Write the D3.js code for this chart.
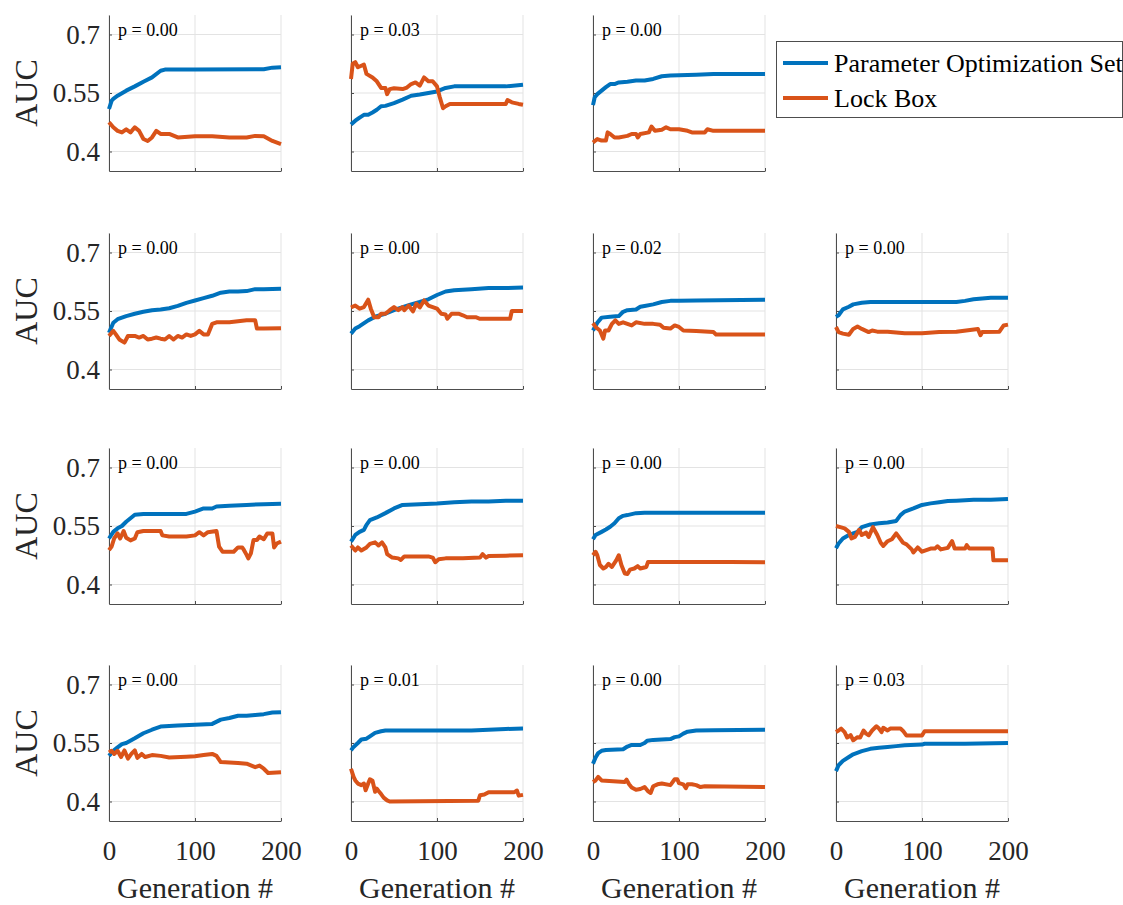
<!DOCTYPE html>
<html>
<head>
  <script src="https://d3js.org/d3.v7.min.js"></script>
  <style>
    body { margin: 0; background: #fff; }
  </style>
</head>
<body>
  <div id="chart"></div>

  <script>
    // [generation, AUC]
    var opt1 = [[0,0.509],[3,0.53],[5,0.535],[10,0.543],[20,0.556],[30,0.567],[40,0.579],[50,0.59],[60,0.607],[65,0.61],[100,0.61],[180,0.611],[190,0.615],[200,0.616]];
    var lock1 = [[0,0.475],[5,0.462],[10,0.453],[15,0.449],[20,0.457],[25,0.449],[30,0.462],[35,0.453],[40,0.432],[45,0.427],[50,0.436],[55,0.453],[60,0.445],[70,0.445],[80,0.436],[100,0.439],[120,0.439],[140,0.436],[160,0.436],[170,0.44],[180,0.439],[190,0.427],[200,0.419]];
    var opt2 = [[0,0.469],[5,0.479],[10,0.487],[15,0.494],[20,0.494],[25,0.5],[30,0.507],[35,0.516],[40,0.517],[50,0.524],[60,0.533],[70,0.543],[80,0.546],[90,0.55],[100,0.554],[110,0.563],[120,0.567],[180,0.567],[200,0.571]];
    var lock2 = [[0,0.586],[2,0.625],[5,0.629],[8,0.616],[12,0.62],[15,0.623],[18,0.599],[25,0.59],[30,0.58],[35,0.563],[40,0.563],[42,0.547],[45,0.56],[50,0.562],[60,0.56],[65,0.564],[70,0.573],[75,0.577],[80,0.569],[85,0.59],[90,0.58],[95,0.58],[100,0.567],[103,0.541],[107,0.511],[110,0.516],[115,0.522],[180,0.522],[182,0.532],[187,0.526],[195,0.522],[200,0.52]];
    var opt3 = [[0,0.519],[2,0.539],[5,0.547],[10,0.556],[15,0.565],[20,0.573],[25,0.573],[30,0.577],[40,0.579],[50,0.582],[60,0.582],[70,0.586],[80,0.593],[90,0.595],[120,0.597],[140,0.599],[200,0.599]];
    var lock3 = [[0,0.423],[5,0.432],[10,0.428],[15,0.428],[17,0.449],[20,0.445],[25,0.436],[30,0.436],[40,0.44],[45,0.445],[50,0.445],[52,0.436],[55,0.445],[65,0.449],[68,0.464],[72,0.453],[80,0.456],[85,0.462],[90,0.457],[100,0.457],[110,0.453],[115,0.449],[130,0.449],[133,0.457],[140,0.453],[200,0.453]];

    var opt5 = [[0,0.494],[5,0.52],[10,0.529],[20,0.537],[30,0.543],[40,0.548],[50,0.552],[60,0.554],[70,0.557],[80,0.563],[90,0.571],[100,0.577],[110,0.583],[120,0.589],[130,0.597],[140,0.6],[150,0.6],[160,0.601],[170,0.606],[180,0.606],[200,0.607]];
    var lock5 = [[0,0.486],[5,0.499],[8,0.49],[12,0.477],[18,0.469],[22,0.486],[30,0.486],[35,0.482],[40,0.486],[45,0.477],[50,0.479],[55,0.482],[60,0.479],[65,0.477],[70,0.486],[75,0.477],[80,0.486],[85,0.482],[90,0.49],[95,0.486],[100,0.49],[105,0.499],[110,0.49],[115,0.49],[120,0.517],[125,0.521],[140,0.521],[160,0.526],[170,0.526],[172,0.505],[180,0.505],[200,0.506]];
    var opt6 = [[0,0.492],[5,0.505],[10,0.511],[20,0.526],[30,0.537],[40,0.543],[50,0.552],[60,0.56],[70,0.567],[80,0.573],[90,0.58],[100,0.591],[110,0.6],[120,0.603],[140,0.606],[160,0.609],[180,0.609],[200,0.61]];
    var lock6 = [[0,0.559],[5,0.564],[10,0.556],[15,0.56],[20,0.579],[23,0.556],[27,0.534],[32,0.534],[35,0.543],[40,0.543],[45,0.552],[50,0.56],[55,0.552],[60,0.56],[62,0.552],[67,0.564],[72,0.549],[76,0.569],[80,0.559],[85,0.577],[90,0.564],[95,0.56],[100,0.556],[105,0.543],[110,0.541],[112,0.53],[117,0.543],[125,0.543],[130,0.539],[135,0.534],[145,0.534],[150,0.53],[185,0.53],[187,0.55],[200,0.55]];
    var opt7 = [[0,0.5],[5,0.52],[10,0.533],[20,0.535],[30,0.537],[35,0.548],[40,0.552],[50,0.554],[55,0.561],[60,0.563],[70,0.567],[80,0.573],[90,0.576],[100,0.576],[120,0.577],[200,0.579]];
    var lock7 = [[0,0.519],[3,0.509],[8,0.5],[12,0.479],[14,0.5],[18,0.5],[22,0.517],[26,0.526],[30,0.517],[35,0.521],[40,0.517],[45,0.513],[50,0.521],[60,0.517],[70,0.517],[78,0.515],[82,0.507],[90,0.505],[95,0.513],[100,0.509],[105,0.5],[120,0.499],[140,0.496],[143,0.49],[200,0.49]];
    var opt8 = [[0,0.535],[3,0.539],[8,0.554],[15,0.561],[20,0.567],[30,0.571],[40,0.573],[140,0.573],[150,0.576],[160,0.58],[170,0.582],[180,0.584],[200,0.584]];
    var lock8 = [[0,0.509],[3,0.496],[8,0.492],[15,0.489],[20,0.504],[25,0.51],[30,0.504],[38,0.496],[42,0.5],[48,0.497],[60,0.497],[80,0.493],[100,0.493],[120,0.496],[140,0.497],[165,0.504],[168,0.488],[170,0.496],[190,0.497],[195,0.513],[200,0.515]];

    var opt9 = [[0,0.518],[5,0.535],[10,0.544],[15,0.55],[20,0.561],[25,0.57],[30,0.579],[40,0.581],[90,0.581],[100,0.587],[110,0.595],[120,0.595],[125,0.6],[140,0.602],[160,0.604],[180,0.606],[200,0.607]];
    var lock9 = [[0,0.488],[3,0.497],[6,0.518],[10,0.531],[13,0.518],[17,0.537],[20,0.52],[25,0.513],[30,0.518],[33,0.534],[40,0.537],[60,0.537],[62,0.526],[70,0.523],[90,0.523],[100,0.526],[105,0.534],[110,0.526],[115,0.534],[125,0.537],[128,0.497],[132,0.484],[145,0.484],[150,0.495],[155,0.495],[157,0.488],[160,0.476],[162,0.467],[165,0.48],[168,0.514],[172,0.514],[175,0.523],[180,0.516],[184,0.531],[190,0.531],[192,0.495],[195,0.505],[200,0.51]];
    var opt10 = [[0,0.51],[5,0.527],[10,0.535],[15,0.54],[18,0.553],[22,0.565],[30,0.572],[40,0.583],[50,0.595],[60,0.604],[80,0.606],[100,0.608],[120,0.611],[140,0.613],[160,0.613],[180,0.615],[200,0.615]];
    var lock10 = [[0,0.5],[5,0.487],[8,0.495],[12,0.487],[18,0.495],[22,0.504],[28,0.508],[32,0.5],[36,0.508],[40,0.495],[42,0.478],[48,0.469],[55,0.467],[58,0.463],[62,0.472],[90,0.472],[95,0.469],[98,0.457],[102,0.465],[110,0.467],[130,0.467],[150,0.469],[153,0.478],[157,0.469],[160,0.473],[180,0.474],[200,0.475]];
    var opt11 = [[0,0.516],[3,0.527],[10,0.535],[15,0.541],[20,0.548],[25,0.557],[30,0.57],[35,0.576],[40,0.578],[50,0.583],[60,0.584],[200,0.584]];
    var lock11 = [[0,0.475],[3,0.484],[5,0.475],[8,0.45],[12,0.441],[15,0.445],[18,0.453],[22,0.445],[27,0.462],[30,0.475],[33,0.45],[37,0.428],[40,0.427],[43,0.438],[48,0.441],[52,0.447],[55,0.441],[62,0.445],[64,0.458],[160,0.458],[200,0.457]];
    var opt12 = [[0,0.493],[3,0.505],[8,0.518],[15,0.527],[25,0.535],[30,0.547],[40,0.554],[50,0.557],[60,0.559],[70,0.563],[75,0.578],[80,0.587],[90,0.595],[100,0.604],[110,0.608],[120,0.611],[130,0.614],[140,0.615],[160,0.617],[180,0.617],[200,0.619]];
    var lock12 = [[0,0.55],[5,0.547],[10,0.544],[15,0.535],[18,0.518],[22,0.522],[27,0.54],[30,0.527],[35,0.533],[38,0.522],[43,0.547],[48,0.527],[52,0.507],[55,0.499],[60,0.511],[65,0.516],[70,0.531],[75,0.516],[78,0.507],[82,0.503],[88,0.49],[90,0.482],[95,0.495],[100,0.484],[110,0.492],[115,0.492],[118,0.498],[122,0.49],[130,0.494],[135,0.511],[138,0.492],[150,0.492],[152,0.501],[155,0.492],[182,0.492],[183,0.462],[200,0.462]];

    var opt13 = [[0,0.517],[5,0.53],[10,0.539],[15,0.547],[20,0.55],[30,0.562],[40,0.575],[50,0.584],[60,0.592],[80,0.595],[100,0.597],[120,0.599],[130,0.61],[140,0.614],[150,0.62],[160,0.62],[170,0.622],[180,0.624],[190,0.628],[200,0.629]];
    var lock13 = [[0,0.526],[3,0.53],[6,0.522],[10,0.53],[14,0.514],[18,0.531],[22,0.51],[26,0.522],[30,0.531],[33,0.512],[38,0.522],[42,0.514],[50,0.519],[60,0.517],[70,0.513],[90,0.515],[100,0.516],[110,0.519],[120,0.522],[125,0.517],[130,0.501],[150,0.499],[160,0.497],[170,0.488],[175,0.492],[180,0.484],[185,0.473],[200,0.475]];
    var opt14 = [[0,0.531],[3,0.54],[8,0.55],[12,0.559],[18,0.561],[22,0.567],[28,0.576],[35,0.58],[40,0.582],[140,0.582],[160,0.584],[180,0.586],[200,0.587]];
    var lock14 = [[0,0.484],[3,0.463],[5,0.454],[8,0.446],[12,0.442],[15,0.446],[17,0.429],[20,0.446],[22,0.457],[25,0.453],[28,0.425],[30,0.433],[32,0.427],[35,0.419],[38,0.41],[42,0.403],[45,0.4],[148,0.402],[150,0.416],[155,0.418],[160,0.424],[190,0.424],[193,0.428],[195,0.415],[200,0.417]];
    var opt15 = [[0,0.497],[3,0.513],[6,0.524],[10,0.53],[15,0.532],[35,0.534],[40,0.541],[45,0.545],[55,0.545],[60,0.55],[63,0.556],[70,0.558],[90,0.56],[95,0.565],[100,0.567],[105,0.574],[110,0.579],[120,0.582],[140,0.583],[200,0.584]];
    var lock15 = [[0,0.45],[3,0.454],[6,0.463],[10,0.454],[37,0.45],[39,0.456],[42,0.444],[45,0.436],[50,0.43],[55,0.432],[60,0.437],[64,0.426],[67,0.422],[70,0.439],[75,0.444],[80,0.446],[90,0.442],[95,0.457],[98,0.457],[100,0.447],[105,0.444],[108,0.434],[110,0.444],[115,0.444],[120,0.442],[125,0.437],[130,0.439],[200,0.437]];
    var opt16 = [[0,0.478],[3,0.493],[8,0.504],[15,0.514],[20,0.521],[30,0.529],[40,0.535],[50,0.538],[60,0.54],[70,0.542],[80,0.544],[100,0.546],[103,0.548],[150,0.548],[200,0.55]];
    var lock16 = [[0,0.578],[3,0.582],[6,0.587],[10,0.578],[13,0.564],[17,0.57],[20,0.557],[25,0.565],[28,0.564],[32,0.582],[35,0.574],[38,0.57],[42,0.582],[47,0.593],[50,0.587],[53,0.578],[55,0.589],[60,0.582],[63,0.587],[75,0.587],[78,0.581],[82,0.569],[100,0.569],[103,0.58],[200,0.58]];

    var pLabels = ["0.00", "0.03", "0.00", null,
                   "0.00", "0.00", "0.02", "0.00",
                   "0.00", "0.00", "0.00", "0.00",
                   "0.00", "0.01", "0.00", "0.03"];
    var optSeries = [opt1, opt2, opt3, null, opt5, opt6, opt7, opt8, opt9, opt10, opt11, opt12, opt13, opt14, opt15, opt16];
    var lockSeries = [lock1, lock2, lock3, null, lock5, lock6, lock7, lock8, lock9, lock10, lock11, lock12, lock13, lock14, lock15, lock16];
    var yTicks = [0.4, 0.55, 0.7];
    var xTicks = [0, 100, 200];
    var legendNames = ["Parameter Optimization Set", "Lock Box"];

    var serif = "'Liberation Serif', 'Times New Roman', serif";
    var blue = "#0072BD", orange = "#D95319";
    var colLeft = [109, 351, 593, 836];
    var rowTop = [15, 233, 448, 665];
    var pw = 172, ph = 156;

    var svg = d3.select("#chart").append("svg")
      .attr("width", 1123)
      .attr("height", 905);

    var x = d3.scaleLinear().domain([0, 200]).range([0, pw]);
    var y = d3.scaleLinear().domain([0.35, 0.75]).range([ph, 0]);

    var line = d3.line()
      .x(function(d) { return x(d[0]); })
      .y(function(d) { return y(d[1]); });

    optSeries.forEach(function(opt, i) {
      if (!opt) return;
      var r = Math.floor(i / 4), c = i % 4;
      var g = svg.append("g")
        .attr("transform", "translate(" + colLeft[c] + "," + rowTop[r] + ")");

      // grid
      g.selectAll(".gy").data(yTicks).enter().append("line")
        .attr("x1", 0).attr("x2", pw)
        .attr("y1", function(d) { return y(d); }).attr("y2", function(d) { return y(d); })
        .attr("stroke", "#e3e3e3");
      g.selectAll(".gx").data(xTicks).enter().append("line")
        .attr("y1", 0).attr("y2", ph)
        .attr("x1", function(d) { return x(d); }).attr("x2", function(d) { return x(d); })
        .attr("stroke", "#e3e3e3");

      var yAxis = d3.axisLeft(y).tickValues(yTicks).tickSize(-3).tickSizeOuter(0).tickPadding(9)
        .tickFormat(c === 0 ? function(d) { return d === 0.55 ? "0.55" : String(d); } : "");
      var xAxis = d3.axisBottom(x).tickValues(xTicks).tickSize(-3).tickSizeOuter(0).tickPadding(20)
        .tickFormat(r === 3 ? d3.format("d") : "");

      var ya = g.append("g").call(yAxis);
      var xa = g.append("g").attr("transform", "translate(0," + ph + ")").call(xAxis);
      [ya, xa].forEach(function(a) {
        a.select(".domain").attr("stroke", "#4d4d4d");
        a.selectAll(".tick line").attr("stroke", "#4d4d4d");
        a.selectAll("text")
          .style("font-family", serif)
          .style("font-size", "27px")
          .style("fill", "#262626");
      });

      g.append("path").datum(opt)
        .attr("d", line).attr("fill", "none")
        .attr("stroke", blue).attr("stroke-width", 4).attr("stroke-linejoin", "round");
      g.append("path").datum(lockSeries[i])
        .attr("d", line).attr("fill", "none")
        .attr("stroke", orange).attr("stroke-width", 4).attr("stroke-linejoin", "round");

      g.append("text")
        .attr("x", 9).attr("y", 21)
        .style("font-family", serif).style("font-size", "18px").style("fill", "#000")
        .text("p = " + pLabels[i]);

      if (c === 0) {
        g.append("text")
          .attr("transform", "translate(-72," + (ph / 2) + ") rotate(-90)")
          .attr("text-anchor", "middle")
          .style("font-family", serif).style("font-size", "32px").style("fill", "#262626")
          .text("AUC");
      }
      if (r === 3) {
        g.append("text")
          .attr("x", pw / 2).attr("y", ph + 77)
          .attr("text-anchor", "middle")
          .style("font-family", serif).style("font-size", "30px").style("fill", "#262626")
          .text("Generation #");
      }
    });

    // legend
    var leg = svg.append("g").attr("transform", "translate(776,41)");
    leg.append("rect")
      .attr("x", 0.5).attr("y", 0.5).attr("width", 346).attr("height", 76)
      .attr("fill", "#fff").attr("stroke", "#4d4d4d");
    legendNames.forEach(function(name, i) {
      var ly = 22 + i * 35;
      leg.append("line")
        .attr("x1", 7).attr("x2", 52).attr("y1", ly).attr("y2", ly)
        .attr("stroke", i === 0 ? blue : orange).attr("stroke-width", 4);
      leg.append("text")
        .attr("x", 58).attr("y", ly).attr("dy", "0.35em")
        .style("font-family", serif).style("font-size", "26px").style("fill", "#000")
        .text(name);
    });
  </script>
</body>
</html>
